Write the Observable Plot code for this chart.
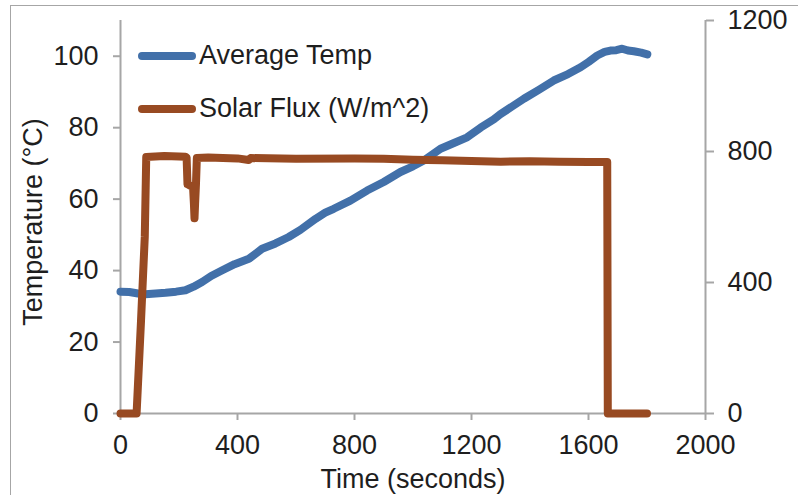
<!DOCTYPE html>
<html>
<head>
<meta charset="utf-8">
<script src="https://cdn.jsdelivr.net/npm/d3@7"></script>
<script src="https://cdn.jsdelivr.net/npm/@observablehq/plot@0.6"></script>
<style>
html, body { margin: 0; padding: 0; background: #fff; }
#wrap { position: relative; width: 798px; height: 495px; overflow: hidden; font-family: "Liberation Sans", Arial, sans-serif; color: #1e1e1e; }
#frame { position: absolute; left: 10px; top: 5px; width: 900px; height: 600px; border-left: 1.5px solid #a6a6a6; border-top: 1.5px solid #a6a6a6; }
#chart { position: absolute; left: 0; top: 0; }
.sw { position: absolute; left: 138px; width: 58px; height: 8px; border-radius: 4px; }
.lt { position: absolute; left: 199px; font-size: 27px; line-height: 30px; white-space: nowrap; }
</style>
</head>
<body>
<div id="wrap">
  <div id="frame"></div>
  <div id="chart"></div>
  <div class="sw" id="sw1"></div><div class="lt" id="lt1" style="top:40px"></div>
  <div class="sw" id="sw2"></div><div class="lt" id="lt2" style="top:93px"></div>
</div>
<script>
// ---- data ----
const seriesNames = ["Average Temp", "Solar Flux (W/m^2)"];
const timeTemp = [0, 30, 60, 85, 120, 154, 190, 222, 250, 279, 310, 348, 390, 439, 484, 530, 575, 615, 667, 700, 729, 786, 843, 900, 957, 1000, 1037, 1094, 1140, 1185, 1231, 1276, 1299, 1340, 1379, 1430, 1481, 1530, 1573, 1600, 1630, 1655, 1675, 1695, 1715, 1735, 1755, 1780, 1801];
const avgTemp  = [34.1, 34.0, 33.6, 33.4, 33.6, 33.8, 34.1, 34.5, 35.5, 36.8, 38.5, 40.1, 41.8, 43.3, 46.1, 47.6, 49.4, 51.4, 54.5, 56.2, 57.3, 59.6, 62.4, 64.8, 67.6, 69.2, 70.8, 74.1, 75.7, 77.3, 80.0, 82.3, 83.8, 86.0, 88.1, 90.6, 93.2, 95.0, 96.9, 98.4, 100.2, 101.2, 101.6, 101.7, 102.1, 101.6, 101.4, 101.0, 100.5];
const timeFlux = [0, 55, 70, 83, 88, 150, 200, 222, 226, 229, 240, 248, 251, 253, 255, 258, 261, 300, 400, 438, 445, 600, 800, 900, 1000, 1100, 1200, 1300, 1400, 1500, 1600, 1664, 1666, 1800];
const solarFlux = [0, 0, 280, 540, 783, 786, 785, 784, 782, 700, 695, 692, 640, 596, 640, 700, 780, 782, 779, 774, 780, 778, 779, 778, 775, 773, 771, 769, 770, 769, 768, 768, 0, 0];
const xTicks = [0, 400, 800, 1200, 1600, 2000];
const leftTicks = [0, 20, 40, 60, 80, 100];
const rightTicks = [0, 400, 800, 1200];
const xLabel = "Time (seconds)";
const yLabel = "Temperature (°C)";

const blue = "#4270a9";
const brown = "#984a22";
const axisGray = "#a6a6a6";
const textCol = "#1e1e1e";
const K = 110 / 1200; // secondary (flux) axis mapped onto primary range

const tempRows = timeTemp.map((t, i) => ({t, v: avgTemp[i]}));
const fluxRows = timeFlux.map((t, i) => ({t, v: solarFlux[i] * K}));

const chart = Plot.plot({
  width: 798, height: 495,
  marginLeft: 120, marginRight: 93, marginTop: 20, marginBottom: 82,
  x: {domain: [0, 2000]},
  y: {domain: [0, 110]},
  style: {fontFamily: '"Liberation Sans", Arial, sans-serif', fontSize: "27px", color: textCol, background: "transparent", overflow: "visible"},
  marks: [
    Plot.ruleX([0], {stroke: axisGray, strokeWidth: 2}),
    Plot.ruleX([2000], {stroke: axisGray, strokeWidth: 2}),
    Plot.ruleY([0], {stroke: axisGray, strokeWidth: 2}),
    Plot.axisY(leftTicks, {anchor: "left", tickSize: 7, tickPadding: 15, stroke: axisGray, strokeWidth: 2, strokeOpacity: 1, fill: textCol, fontSize: 27, label: null, tickFormat: d => String(d)}),
    Plot.axisY(rightTicks.map(v => v * K), {anchor: "right", tickSize: 8, tickPadding: 14, stroke: axisGray, strokeWidth: 2, strokeOpacity: 1, fill: textCol, fontSize: 27, label: null, tickFormat: d => String(Math.round(d / K))}),
    Plot.axisX(xTicks, {anchor: "bottom", tickSize: 7, tickPadding: 14, stroke: axisGray, strokeWidth: 2, strokeOpacity: 1, fill: textCol, fontSize: 27, label: null, tickFormat: d => String(d)}),
    Plot.line(tempRows, {x: "t", y: "v", stroke: blue, strokeWidth: 8, strokeLinecap: "round", strokeLinejoin: "round"}),
    Plot.line(fluxRows, {x: "t", y: "v", stroke: brown, strokeWidth: 8, strokeLinecap: "round", strokeLinejoin: "round"}),
    Plot.text([yLabel], {frameAnchor: "left", rotate: -90, dx: -87, dy: 5, textAnchor: "middle", lineAnchor: "middle", fontSize: 27, fill: textCol}),
    Plot.text([xLabel], {frameAnchor: "bottom", dy: 66, textAnchor: "middle", lineAnchor: "middle", fontSize: 27, fill: textCol})
  ]
});
document.getElementById("chart").appendChild(chart);

document.getElementById("sw1").style.cssText = `top:52px;background:${blue}`;
document.getElementById("sw2").style.cssText = `top:105px;background:${brown}`;
document.getElementById("lt1").textContent = seriesNames[0];
document.getElementById("lt2").textContent = seriesNames[1];
</script>
</body>
</html>
